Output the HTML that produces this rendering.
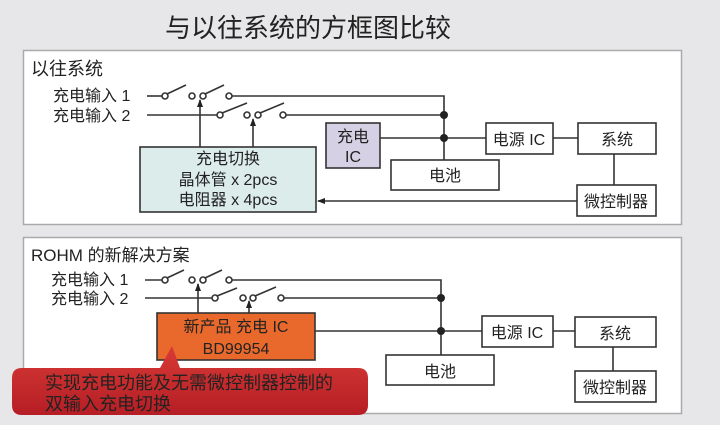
<!DOCTYPE html>
<html><head><meta charset="utf-8"><style>
html,body{margin:0;padding:0;background:#e7e7e9;}
svg{display:block;}
text{font-family:"Liberation Sans","Noto Sans CJK SC",sans-serif;fill:#222;}
</style></head><body>
<svg width="720" height="425" viewBox="0 0 720 425" xmlns="http://www.w3.org/2000/svg">
<defs>
<marker id="ar" markerWidth="8" markerHeight="8" refX="7" refY="4" orient="auto" markerUnits="userSpaceOnUse"><path d="M0,1 L8,4 L0,7 Z" fill="#222"/></marker>
<linearGradient id="rg" x1="0" y1="0" x2="0" y2="1"><stop offset="0" stop-color="#d83a36"/><stop offset="1" stop-color="#b51e25"/></linearGradient>
</defs>
<rect width="720" height="425" fill="#e7e7e9"/>
<text x="165" y="37" font-size="26" fill="#333">与以往系统的方框图比较</text>

<!-- TOP PANEL -->
<rect x="23.5" y="50.5" width="658" height="174" fill="#fff" stroke="#aaa" stroke-width="1.5"/>
<text x="31" y="75" font-size="18">以往系统</text>
<g stroke="#333" stroke-width="1.6" fill="none">
<text x="53" y="101" font-size="16" stroke="none">充电输入 1</text>
<text x="53" y="121" font-size="16" stroke="none">充电输入 2</text>
<line x1="147" y1="96" x2="162" y2="96"/>
<circle cx="165" cy="96" r="3" fill="#fff"/><line x1="167" y1="94" x2="186" y2="85"/>
<circle cx="192" cy="96" r="3" fill="#fff"/><circle cx="203" cy="96" r="3" fill="#fff"/><line x1="205" y1="94" x2="224" y2="85"/>
<circle cx="229" cy="96" r="3" fill="#fff"/>
<polyline points="232,96 444,96 444,160"/>
<line x1="147" y1="115" x2="217" y2="115"/>
<circle cx="220" cy="115" r="3" fill="#fff"/><line x1="222" y1="113" x2="247" y2="103"/>
<circle cx="247" cy="115" r="3" fill="#fff"/><circle cx="258" cy="115" r="3" fill="#fff"/><line x1="260" y1="113" x2="284" y2="103"/>
<circle cx="283" cy="115" r="3" fill="#fff"/>
<line x1="286" y1="115" x2="444" y2="115"/>
<line x1="200" y1="147" x2="200" y2="100" marker-end="url(#ar)"/>
<line x1="253" y1="147" x2="253" y2="119" marker-end="url(#ar)"/>
<line x1="380" y1="138" x2="486" y2="138"/>
<line x1="553" y1="138" x2="578" y2="138"/>
<line x1="614" y1="154" x2="614" y2="185"/>
<line x1="577" y1="201" x2="318" y2="201" marker-end="url(#ar)"/>
<rect x="140" y="147" width="176" height="65" fill="#dcecea"/>
<rect x="326" y="123" width="54" height="45" fill="#d6d0e4"/>
<rect x="391" y="160" width="108" height="30" fill="#fff"/>
<rect x="486" y="123" width="67" height="31" fill="#fff"/>
<rect x="578" y="123" width="78" height="31" fill="#fff"/>
<rect x="577" y="185" width="79" height="31" fill="#fff"/>
</g>
<circle cx="444" cy="115" r="4" fill="#222"/><circle cx="444" cy="138" r="4" fill="#222"/>
<g font-size="16" text-anchor="middle">
<text x="228" y="164">充电切换</text>
<text x="228" y="185">晶体管 x 2pcs</text>
<text x="228" y="205">电阻器 x 4pcs</text>
<text x="353" y="142">充电</text>
<text x="353" y="162">IC</text>
<text x="445" y="181">电池</text>
<text x="519" y="145">电源 IC</text>
<text x="617" y="145">系统</text>
<text x="616" y="207">微控制器</text>
</g>

<!-- BOTTOM PANEL -->
<rect x="23.5" y="237.5" width="658" height="176" fill="#fff" stroke="#aaa" stroke-width="1.5"/>
<text x="31" y="261" font-size="17">ROHM 的新解决方案</text>
<g stroke="#333" stroke-width="1.6" fill="none">
<text x="51" y="285" font-size="16" stroke="none">充电输入 1</text>
<text x="51" y="304" font-size="16" stroke="none">充电输入 2</text>
<line x1="145" y1="280" x2="162" y2="280"/>
<circle cx="165" cy="280" r="3" fill="#fff"/><line x1="167" y1="278" x2="184" y2="270"/>
<circle cx="192" cy="280" r="3" fill="#fff"/><circle cx="203" cy="280" r="3" fill="#fff"/><line x1="205" y1="278" x2="222" y2="270"/>
<circle cx="229" cy="280" r="3" fill="#fff"/>
<polyline points="232,280 441,280 441,355"/>
<line x1="145" y1="298" x2="212" y2="298"/>
<circle cx="215" cy="298" r="3" fill="#fff"/><line x1="217" y1="296" x2="237" y2="288"/>
<circle cx="243" cy="298" r="3" fill="#fff"/><circle cx="253" cy="298" r="3" fill="#fff"/><line x1="255" y1="296" x2="276" y2="287"/>
<circle cx="281" cy="298" r="3" fill="#fff"/>
<line x1="284" y1="298" x2="441" y2="298"/>
<line x1="198" y1="313" x2="198" y2="284" marker-end="url(#ar)"/>
<line x1="249" y1="313" x2="249" y2="301" marker-end="url(#ar)"/>
<line x1="315" y1="331" x2="482" y2="331"/>
<line x1="553" y1="331" x2="575" y2="331"/>
<line x1="613" y1="347" x2="613" y2="371"/>
<rect x="157" y="313" width="158" height="47" fill="#e9692c"/>
<rect x="386" y="355" width="108" height="30" fill="#fff"/>
<rect x="482" y="316" width="71" height="31" fill="#fff"/>
<rect x="575" y="317" width="81" height="30" fill="#fff"/>
<rect x="575" y="371" width="81" height="31" fill="#fff"/>
</g>
<circle cx="441" cy="298" r="4" fill="#222"/><circle cx="441" cy="331" r="4" fill="#222"/>
<g font-size="16" text-anchor="middle">
<text x="236" y="332" fill="#fbe3d2">新产品 充电 IC</text>
<text x="236" y="354" fill="#fbe3d2">BD99954</text>
<text x="440" y="377">电池</text>
<text x="517" y="338">电源 IC</text>
<text x="615" y="339">系统</text>
<text x="615" y="393">微控制器</text>
</g>
<path d="M22,368 L160,368 L172,346 L180,368 L358,368 Q368,368 368,378 L368,405 Q368,415 358,415 L22,415 Q12,415 12,405 L12,378 Q12,368 22,368 Z" fill="url(#rg)"/>
<text x="45" y="389" font-size="18" fill="#fde7e4">实现充电功能及无需微控制器控制的</text>
<text x="45" y="410" font-size="18" fill="#fde7e4">双输入充电切换</text>
</svg>
</body></html>
